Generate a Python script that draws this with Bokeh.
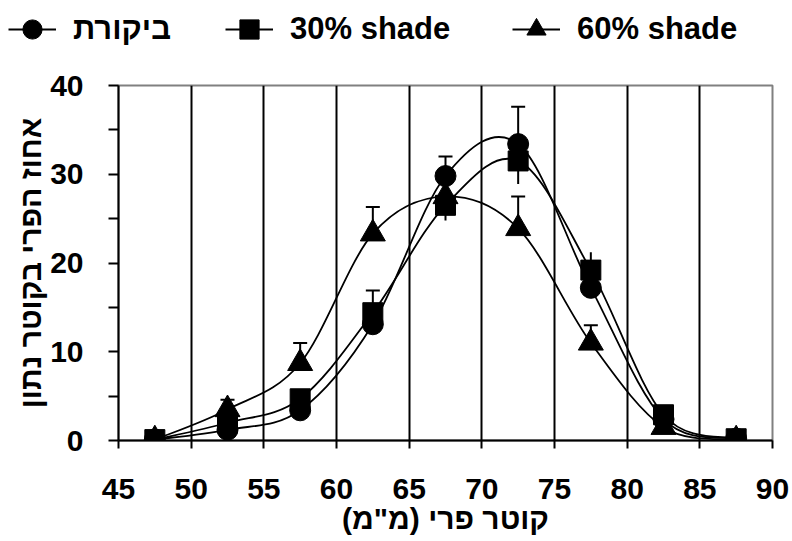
import numpy as np
from bokeh.plotting import figure
from bokeh.layouts import column
from bokeh.models import (ColumnDataSource, Whisker, TeeHead, Legend, LegendItem,
                          FixedTicker)
from bokeh.embed import file_html
from bokeh.resources import INLINE

# ---------------- data ----------------
diameter = [47.5, 52.5, 57.5, 62.5, 67.5, 72.5, 77.5, 82.5, 87.5]

control = [0.1, 1.2, 3.4, 13.1, 29.8, 33.4, 17.2, 2.4, 0.2]
shade30 = [0.1, 2.0, 4.7, 14.4, 26.5, 31.5, 19.2, 2.9, 0.2]
shade60 = [0.1, 3.5, 8.7, 23.3, 27.5, 23.9, 11.0, 1.5, 0.1]

control_err = [0, 0, 0, 3.8, 2.2, 4.2, 0, 0, 0]
shade30_err = [0, 0, 0, 1.0, 1.7, 2.6, 2.0, 0, 0]
shade60_err = [0, 1.1, 2.3, 3.0, 0, 3.6, 2.0, 0, 0]

x_ticks = [45, 50, 55, 60, 65, 70, 75, 80, 85, 90]
x_grid = [50, 55, 60, 65, 70, 75, 80, 85]
y_ticks = [0, 10, 20, 30, 40]
y_minor = [5, 15, 25, 35]

series_names = ["ביקורת", "30% shade", "60% shade"]
x_title = "קוטר פרי (מ\"מ)\u200f"
y_title = "אחוז הפרי בקוטר נתון"

FONT = "Liberation Sans"
LEG_H = 58


def smooth_source(xs, ys):
    xs = np.asarray(xs, float)
    ys = np.asarray(ys, float)
    n = len(xs)
    xp = np.concatenate([[xs[0]], xs, [xs[-1]]])
    yp = np.concatenate([[ys[0]], ys, [ys[-1]]])
    cx0 = xs[:-1] + (xp[2:n + 1] - xp[0:n - 1]) / 6.0
    cy0 = ys[:-1] + (yp[2:n + 1] - yp[0:n - 1]) / 6.0
    cx1 = xs[1:] - (xp[3:n + 2] - xp[1:n]) / 6.0
    cy1 = ys[1:] - (yp[3:n + 2] - yp[1:n]) / 6.0
    return ColumnDataSource(dict(x0=xs[:-1], y0=ys[:-1], x1=xs[1:], y1=ys[1:],
                                 cx0=cx0, cy0=cy0, cx1=cx1, cy1=cy1))


def err_source(xs, ys, errs, both=False):
    xs = np.asarray(xs, float)
    ys = np.asarray(ys, float)
    e = np.asarray(errs, float)
    m = e > 0
    lower = ys[m] - e[m] if both else ys[m]
    return ColumnDataSource(dict(x=xs[m], lower=lower, upper=ys[m] + e[m]))


p = figure(width=792, height=541 - LEG_H, x_range=(45, 90), y_range=(0, 40),
           output_backend="svg", toolbar_location=None,
           min_border_left=118, min_border_right=20,
           min_border_top=85 - LEG_H, min_border_bottom=101)
p.frame_align = False
p.background_fill_color = "white"
p.border_fill_color = "white"
p.outline_line_color = "#808080"
p.outline_line_width = 2

# grid
p.ygrid.grid_line_color = None
p.xgrid.ticker = FixedTicker(ticks=x_grid)
p.xgrid.grid_line_color = "black"
p.xgrid.grid_line_width = 2

# axes
for ax in (p.xaxis[0], p.yaxis[0]):
    ax.axis_line_width = 2
    ax.axis_line_color = "black"
    ax.major_tick_line_width = 2
    ax.major_tick_line_color = "black"
    ax.minor_tick_line_width = 2
    ax.minor_tick_line_color = "black"
    ax.major_tick_in = 0
    ax.minor_tick_in = 0
    ax.major_label_text_font = FONT
    ax.major_label_text_font_style = "bold"
    ax.major_label_text_font_size = "30px"
    ax.major_label_text_color = "black"
    ax.axis_label_text_font = FONT
    ax.axis_label_text_font_style = "bold"
    ax.axis_label_text_color = "black"

p.xaxis.ticker = FixedTicker(ticks=x_ticks)
p.xaxis.major_tick_out = 8
p.xaxis.minor_tick_out = 0
p.xaxis.major_label_standoff = 30
p.xaxis.axis_label = x_title
p.xaxis.axis_label_text_font_size = "30px"
p.xaxis.axis_label_standoff = 0

p.yaxis.ticker = FixedTicker(ticks=y_ticks, minor_ticks=y_minor)
p.yaxis.major_tick_out = 10
p.yaxis.minor_tick_out = 10
p.yaxis.major_label_standoff = 25
p.yaxis.axis_label = y_title
p.yaxis.axis_label_text_font_size = "30px"
p.yaxis.axis_label_standoff = 0

# series
markers = ["circle", "square", "triangle"]
sizes = [21, 20, 25]
values = [control, shade30, shade60]
errors = [control_err, shade30_err, shade60_err]
both_dir = [False, True, False]

for ys in values:
    src = smooth_source(diameter, ys)
    p.bezier(x0="x0", y0="y0", x1="x1", y1="y1", cx0="cx0", cy0="cy0",
             cx1="cx1", cy1="cy1", source=src, line_color="black", line_width=1.8)

for ys, errs, both in zip(values, errors, both_dir):
    es = err_source(diameter, ys, errs, both)
    if both:
        w = Whisker(base="x", lower="lower", upper="upper", source=es,
                    line_color="black", line_width=2, upper_head=None, lower_head=None)
    else:
        w = Whisker(base="x", lower="lower", upper="upper", source=es,
                    line_color="black", line_width=2, lower_head=None,
                    upper_head=TeeHead(size=14, line_color="black", line_width=2))
    p.add_layout(w)

for ys, mk, sz in zip(values, markers, sizes):
    src = ColumnDataSource(dict(x=diameter, y=ys))
    p.scatter(x="x", y="y", source=src, marker=mk, size=sz,
              fill_color="black", line_color="black")

# ---------------- legend strip on top ----------------
# The legend keys re-use each series' data, placed in a strip whose range
# does not include it, so only the key glyphs are seen.
lg = figure(width=792, height=LEG_H, x_range=(100, 101), y_range=(100, 101),
            output_backend="svg", toolbar_location=None,
            x_axis_type=None, y_axis_type=None, min_border=0)
lg.frame_align = False
lg.outline_line_color = None
lg.grid.grid_line_color = None
lg.background_fill_color = "white"
lg.border_fill_color = "white"

legend_x = [8, 225, 512]
for name, mk, ys, lx in zip(series_names, markers, values, legend_x):
    key_src = ColumnDataSource(dict(x=diameter, y=ys))
    lr = lg.line(x="x", y="y", source=key_src, line_color="black", line_width=1.8)
    sr = lg.scatter(x="x", y="y", source=key_src, marker=mk,
                    fill_color="black", line_color="black")
    leg = Legend(items=[LegendItem(label=name, renderers=[lr, sr], index=0)],
                 orientation="horizontal", location=(lx, 4),
                 glyph_width=48, glyph_height=50, label_standoff=17,
                 padding=0, margin=0, border_line_alpha=0, background_fill_alpha=0,
                 label_text_font=FONT, label_text_font_style="bold",
                 label_text_font_size="31px", label_text_color="black")
    lg.add_layout(leg)

layout = column(lg, p, spacing=0)
open("out.html", "w").write(file_html(layout, INLINE))
